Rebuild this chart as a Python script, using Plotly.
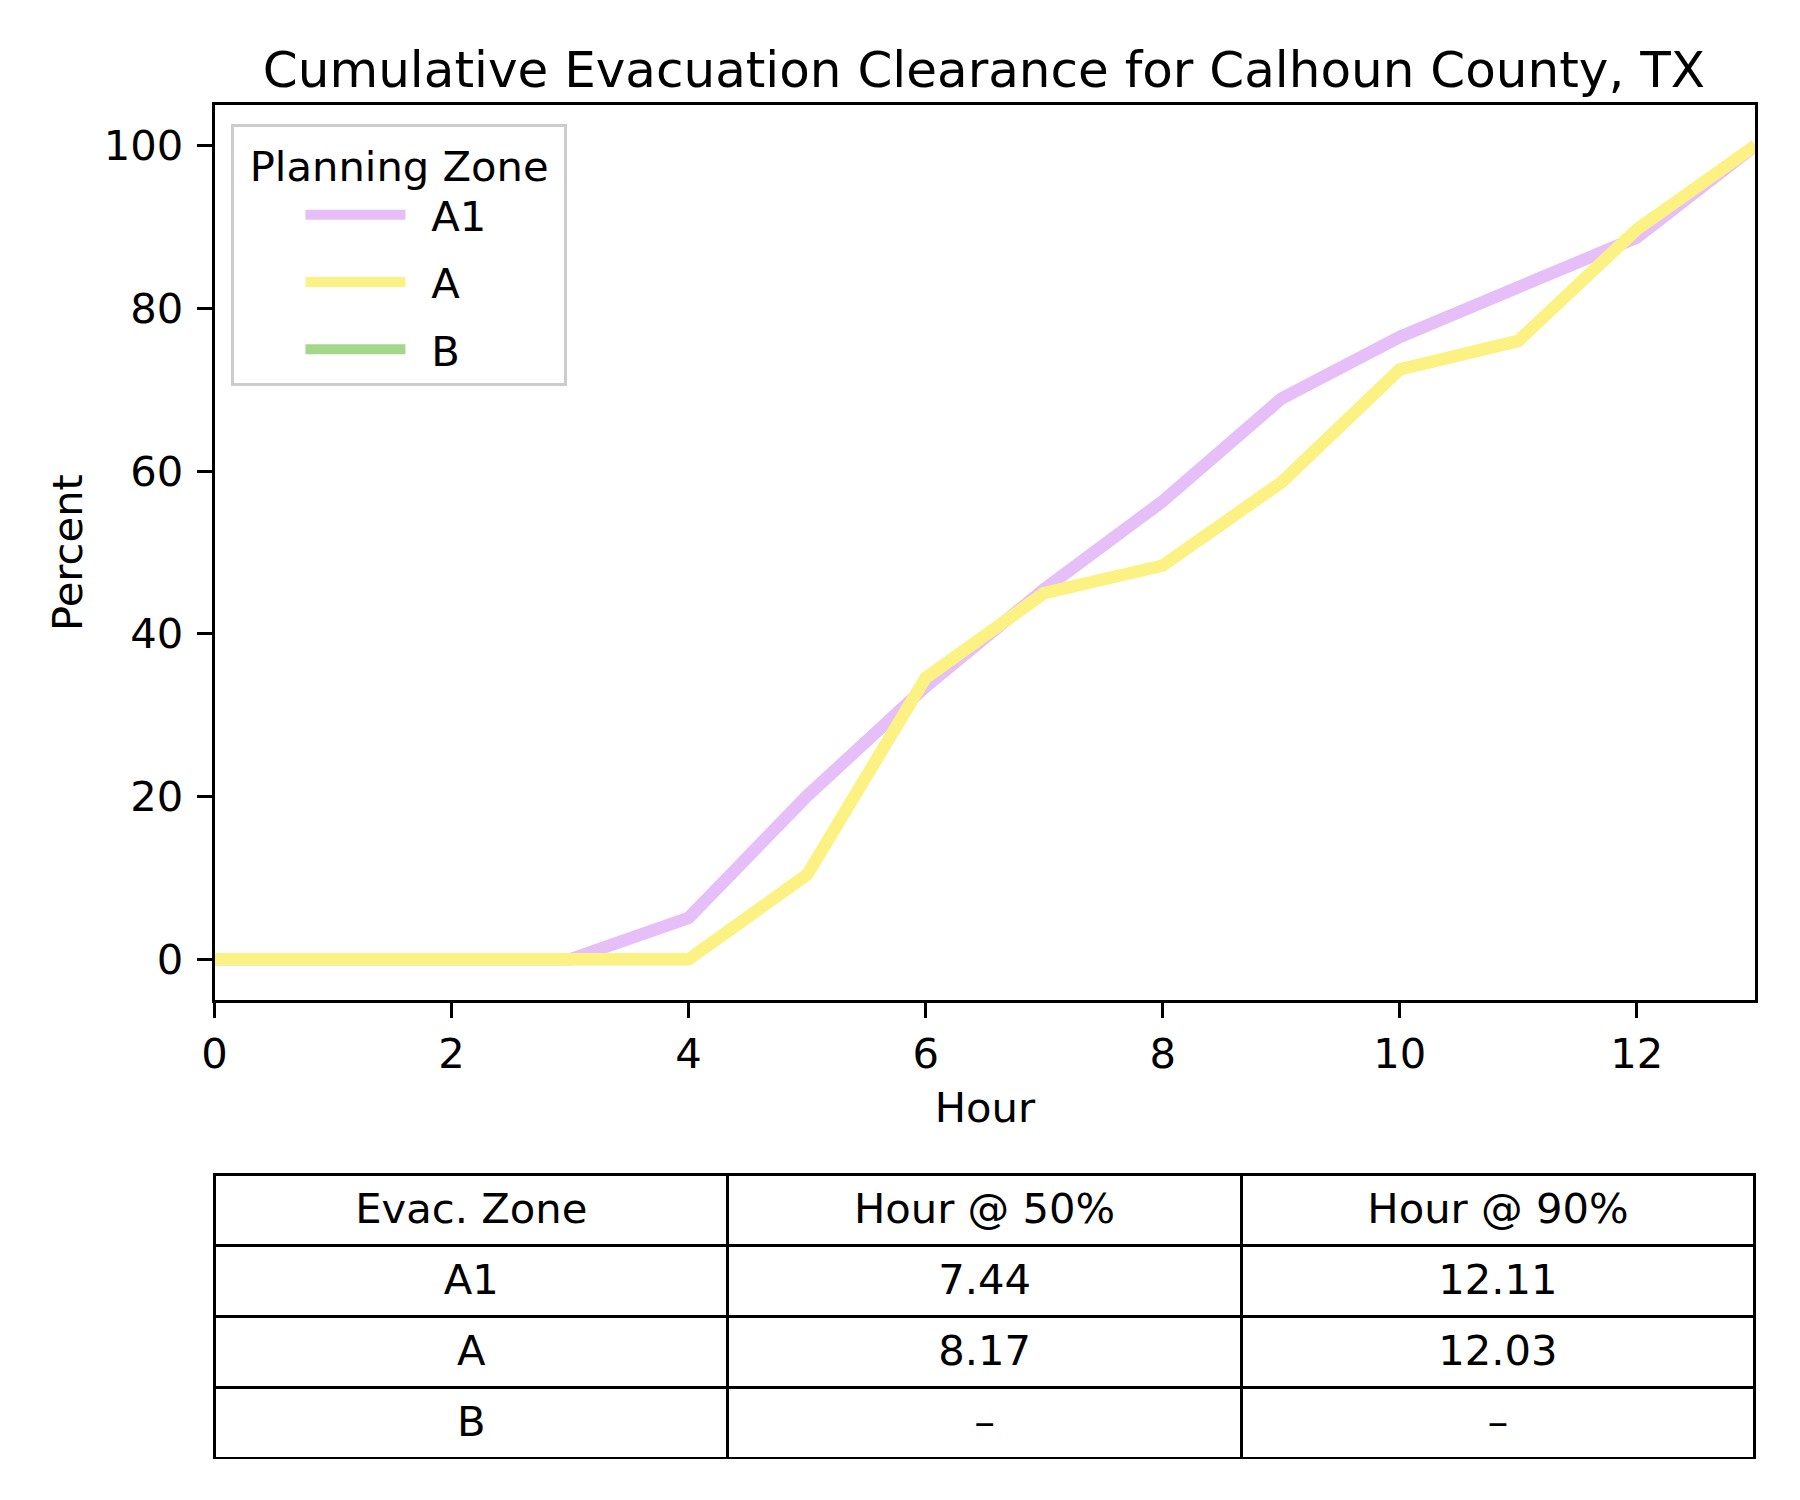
import plotly.graph_objects as go

# ---- data ----
HOURS = [0, 1, 2, 3, 4, 5, 6, 7, 8, 9, 10, 11, 12, 13]
A1_PCT = [0, 0, 0, 0, 5.1, 20.1, 33.5, 45.5, 56.3, 68.9, 76.5, 82.5, 88.7, 100]
A_PCT = [0, 0, 0, 0, 0, 10.4, 34.6, 45.0, 48.4, 58.6, 72.5, 76.0, 89.7, 100]
B_PCT = [None, None, None, None, None, None, None, None, None, None, None, None, None, None]

ZONES = ["A1", "A", "B"]
COLORS = ["#E6BEF8", "#FCF283", "#A3D78A"]

TABLE_HEADER = ["Evac. Zone", "Hour @ 50%", "Hour @ 90%"]
TABLE_ZONE = ["A1", "A", "B"]
TABLE_H50 = ["7.44", "8.17", "–"]
TABLE_H90 = ["12.11", "12.03", "–"]

FONT = "DejaVu Sans"
FS = 41.7

# page offset (body margin) compensation
OFF = 8
W, H = 1800 - 2 * OFF, 1500 - 2 * OFF


def px(X):
    return (X - OFF) / W


def py(Y):
    return 1 - (Y - OFF) / H


fig = go.Figure()
for name, ys, col in zip(ZONES, [A1_PCT, A_PCT, B_PCT], COLORS):
    fig.add_trace(go.Scatter(x=HOURS, y=ys, mode="lines", name="\u2002" + name,
                             legendgroup=name,
                             line=dict(color=col, width=12.5),
                             xaxis="x", yaxis="y"))

ROW_H = 71

# table grid (cell borders)
blank = [""] * len(TABLE_HEADER)
blank_col = [""] * len(TABLE_ZONE)
fig.add_trace(go.Table(
    domain=dict(x=[px(203), px(1755)], y=[py(1460), py(1174)]),
    columnwidth=[1, 1, 1],
    header=dict(values=blank, height=ROW_H,
                font=dict(family=FONT, size=FS, color="black"),
                line=dict(color="black", width=3), fill=dict(color="white")),
    cells=dict(values=[blank_col, blank_col, blank_col], height=ROW_H,
               font=dict(family=FONT, size=FS, color="black"),
               line=dict(color="black", width=3), fill=dict(color="white")),
))
# table text (vertically centred within the grid rows)
fig.add_trace(go.Table(
    domain=dict(x=[px(203), px(1755)], y=[py(1470), py(1184)]),
    columnwidth=[1, 1, 1],
    header=dict(values=TABLE_HEADER, align="center", height=ROW_H,
                font=dict(family=FONT, size=FS, color="black"),
                line=dict(color="rgba(0,0,0,0)", width=0),
                fill=dict(color="rgba(0,0,0,0)")),
    cells=dict(values=[TABLE_ZONE, TABLE_H50, TABLE_H90], align="center", height=ROW_H,
               font=dict(family=FONT, size=FS, color="black"),
               line=dict(color="rgba(0,0,0,0)", width=0),
               fill=dict(color="rgba(0,0,0,0)")),
))

axis_common = dict(showline=True, mirror=True, linecolor="black", linewidth=3,
                   ticks="outside", ticklen=15, tickwidth=3, tickcolor="black",
                   showgrid=False, zeroline=False,
                   tickfont=dict(family=FONT, size=FS, color="black"))

fig.update_layout(
    width=W, height=H,
    margin=dict(l=0, r=0, t=0, b=0),
    paper_bgcolor="white", plot_bgcolor="white",
    font=dict(family=FONT, size=FS, color="black"),
    title=dict(text="Cumulative Evacuation Clearance for Calhoun County, TX",
               x=px(978), y=py(69), xanchor="center", yanchor="middle",
               xref="paper", yref="paper",
               font=dict(family=FONT, size=50, color="black")),
    xaxis=dict(domain=[px(203), px(1755)], range=[0, 13],
               tickvals=[0, 2, 4, 6, 8, 10, 12],
               title=dict(text="Hour", standoff=16, font=dict(family=FONT, size=FS)),
               **axis_common),
    yaxis=dict(domain=[py(1000), py(105)], range=[-5, 105],
               tickvals=[0, 20, 40, 60, 80, 100],
               ticklabelstandoff=5,
               title=dict(text="Percent", standoff=9, font=dict(family=FONT, size=FS)),
               **axis_common),
    legend=dict(x=px(220), y=py(124), xanchor="left", yanchor="top",
                xref="paper", yref="paper",
                bgcolor="white", bordercolor="#cccccc", borderwidth=3,
                itemwidth=100, tracegroupgap=10, traceorder="grouped",
                indentation=66,
                title=dict(text="\u00a0Planning Zone\u00a0", font=dict(family=FONT, size=FS)),
                font=dict(family=FONT, size=FS, color="black")),
    showlegend=True,
)

fig.write_html("out.html")
